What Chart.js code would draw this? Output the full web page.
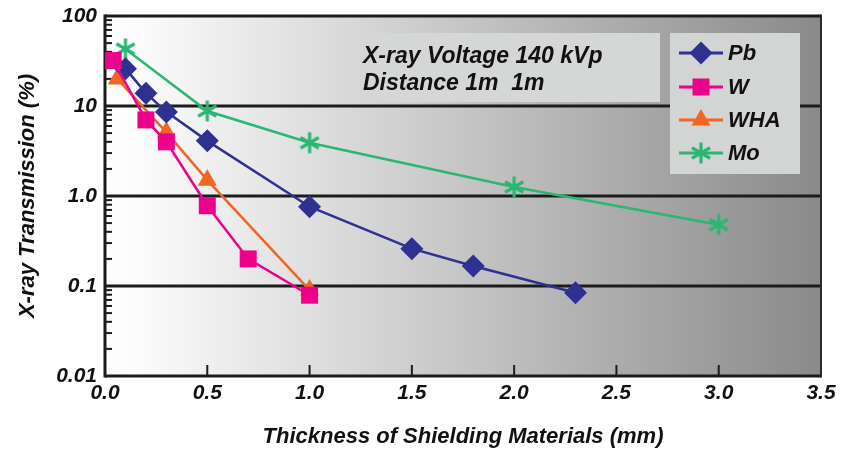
<!DOCTYPE html>
<html><head><meta charset="utf-8">
<script src="https://cdn.jsdelivr.net/npm/chart.js@4.4.1/dist/chart.umd.min.js"></script>
<style>html,body{margin:0;padding:0;background:#fff}canvas{display:block}</style>
</head><body>
<canvas id="c" width="842" height="452"></canvas>
<script>
// ---- data ----
const seriesNames = ['Pb', 'W', 'WHA', 'Mo'];
const pbX  = [0.1, 0.2, 0.3, 0.5, 1.0, 1.5, 1.8, 2.3];
const pbY  = [26, 13.9, 8.6, 4.1, 0.76, 0.26, 0.167, 0.084];
const wX   = [0.04, 0.2, 0.3, 0.5, 0.7, 1.0];
const wY   = [32, 7.0, 4.0, 0.78, 0.2, 0.079];
const whaX = [0.06, 0.3, 0.5, 1.0];
const whaY = [20, 5.1, 1.5, 0.09];
const moX  = [0.1, 0.5, 1.0, 2.0, 3.0];
const moY  = [43, 8.8, 3.9, 1.26, 0.48];
const xTicks = [0, 0.5, 1.0, 1.5, 2.0, 2.5, 3.0, 3.5];
const yTicks = [0.01, 0.1, 1, 10, 100];
const yTickLabels = ['0.01', '0.1', '1.0', '10', '100'];
const xTitle = 'Thickness of Shielding Materials (mm)';
const yTitle = 'X-ray Transmission (%)';
const annotationLines = ['X-ray Voltage 140 kVp', 'Distance 1m  1m'];

const colors = ['#2e3192', '#ec008c', '#f26522', '#2bb673'];
const SANS = "'Liberation Sans',Arial,Helvetica,sans-serif";

function makeAsterisk(color) {
  const c = document.createElement('canvas');
  c.width = 24; c.height = 24;
  const g = c.getContext('2d');
  g.strokeStyle = color; g.lineWidth = 3.2; g.lineCap = 'butt';
  const r = 10.5;
  [90, 30, 150].forEach(deg => {
    const a = deg * Math.PI / 180;
    g.beginPath();
    g.moveTo(12 - r * Math.cos(a), 12 - r * Math.sin(a));
    g.lineTo(12 + r * Math.cos(a), 12 + r * Math.sin(a));
    g.stroke();
  });
  return c;
}
const asterisk = makeAsterisk(colors[3]);

const pts = (xs, ys) => xs.map((x, i) => ({x: x, y: ys[i]}));
const styles = [
  {pointStyle: 'rectRot', pointRadius: 11.5, order: 1},
  {pointStyle: 'rect', pointRadius: 12, order: 0},
  {pointStyle: 'triangle', pointRadius: 11, order: 2},
  {pointStyle: asterisk, pointRadius: 12, order: 3}
];
const dataSets = [pts(pbX, pbY), pts(wX, wY), pts(whaX, whaY), pts(moX, moY)];

const datasets = dataSets.map((d, i) => ({
  label: seriesNames[i],
  data: d,
  showLine: true,
  borderColor: colors[i],
  backgroundColor: colors[i],
  pointBackgroundColor: colors[i],
  pointBorderColor: colors[i],
  pointBorderWidth: 0,
  borderWidth: 2.5,
  pointStyle: styles[i].pointStyle,
  pointRadius: styles[i].pointRadius,
  order: styles[i].order
}));

const decor = {
  id: 'decor',
  beforeDraw(chart) {
    const {ctx, chartArea: a} = chart;
    const g = ctx.createLinearGradient(a.left, 0, a.right, 0);
    g.addColorStop(0, '#ffffff');
    g.addColorStop(0.04, '#fcfcfc');
    g.addColorStop(1, '#8a8a8a');
    ctx.save();
    ctx.fillStyle = g;
    ctx.fillRect(a.left, a.top, a.right - a.left, a.bottom - a.top);
    ctx.restore();
  },
  beforeDatasetsDraw(chart) {
    const {ctx, chartArea: a, scales: {x, y}} = chart;
    ctx.save();
    ctx.strokeStyle = '#1c1c1c';
    ctx.lineWidth = 3;
    [10, 1, 0.1].forEach(v => {
      const py = y.getPixelForValue(v);
      ctx.beginPath(); ctx.moveTo(a.left, py); ctx.lineTo(a.right, py); ctx.stroke();
    });
    ctx.lineWidth = 2;
    [0.01, 0.1, 1, 10].forEach(d => {
      for (let k = 2; k <= 9; k++) {
        const py = y.getPixelForValue(d * k);
        ctx.beginPath(); ctx.moveTo(a.left, py); ctx.lineTo(a.left + 7, py); ctx.stroke();
      }
      const py = y.getPixelForValue(d);
      ctx.beginPath(); ctx.moveTo(a.left, py); ctx.lineTo(a.left + 9, py); ctx.stroke();
    });
    xTicks.slice(1, -1).forEach(v => {
      const px = x.getPixelForValue(v);
      ctx.beginPath(); ctx.moveTo(px, a.bottom); ctx.lineTo(px, a.bottom - 11); ctx.stroke();
    });
    ctx.lineWidth = 3;
    ctx.beginPath(); ctx.moveTo(a.left, a.top); ctx.lineTo(a.right, a.top); ctx.stroke();
    ctx.beginPath(); ctx.moveTo(a.left, a.top - 1.5); ctx.lineTo(a.left, a.bottom + 1.5); ctx.stroke();
    ctx.beginPath(); ctx.moveTo(a.left, a.bottom); ctx.lineTo(a.right, a.bottom); ctx.stroke();
    ctx.strokeStyle = '#2a2a2a'; ctx.lineWidth = 2;
    ctx.beginPath(); ctx.moveTo(a.right, a.top - 1.5); ctx.lineTo(a.right, a.bottom + 1.5); ctx.stroke();
    ctx.restore();
  },
  afterDatasetsDraw(chart) {
    const {ctx} = chart;
    ctx.save();
    ctx.fillStyle = '#d5d7d7';
    ctx.fillRect(358, 33, 302, 69);
    ctx.fillStyle = '#111';
    ctx.font = 'italic bold 23px ' + SANS;
    ctx.textBaseline = 'alphabetic';
    ctx.textAlign = 'left';
    ctx.fillText(annotationLines[0], 363, 63);
    ctx.fillText(annotationLines[1], 363, 90);
    ctx.fillStyle = '#d3d5d5';
    ctx.fillRect(670, 33, 130, 141);
    const rows = [53, 87, 120, 153];
    chart.data.datasets.forEach((ds, i) => {
      const yy = rows[i];
      ctx.strokeStyle = ds.borderColor; ctx.lineWidth = 3;
      ctx.beginPath(); ctx.moveTo(679, yy); ctx.lineTo(723, yy); ctx.stroke();
      ctx.fillStyle = ds.backgroundColor; ctx.strokeStyle = ds.borderColor;
      Chart.helpers.drawPoint(ctx, {pointStyle: ds.pointStyle, radius: ds.pointRadius, borderWidth: 0, rotation: 0}, 701, yy);
      ctx.fillStyle = '#111';
      ctx.font = 'italic bold 22px ' + SANS;
      ctx.textBaseline = 'middle';
      ctx.fillText(ds.label, 728, yy + 1);
    });
    ctx.restore();
  }
};

new Chart(document.getElementById('c'), {
  type: 'scatter',
  data: {datasets: datasets},
  plugins: [decor],
  options: {
    responsive: false,
    animation: false,
    devicePixelRatio: 1,
    layout: {padding: {top: 16, right: 21, left: 0, bottom: 0}},
    plugins: {legend: {display: false}, tooltip: {enabled: false}},
    scales: {
      x: {
        type: 'linear', min: 0, max: 3.5,
        afterBuildTicks: s => { s.ticks = xTicks.map(v => ({value: v})); },
        afterFit: s => { s.height = 76; },
        grid: {display: false, drawTicks: false},
        border: {display: false},
        ticks: {
          padding: 5, color: '#111', maxRotation: 0, autoSkip: false,
          font: {family: SANS, size: 21, style: 'italic', weight: 'bold'},
          callback: v => Number(v).toFixed(1)
        },
        title: {
          display: true, text: xTitle, color: '#111',
          font: {family: SANS, size: 22, style: 'italic', weight: 'bold'},
          padding: {top: 0, bottom: 2}
        }
      },
      y: {
        type: 'logarithmic', min: 0.01, max: 100,
        afterBuildTicks: s => { s.ticks = yTicks.map(v => ({value: v})); },
        afterFit: s => { s.width = 105; },
        grid: {display: false, drawTicks: false},
        border: {display: false},
        ticks: {
          padding: 8, color: '#111', autoSkip: false,
          font: {family: SANS, size: 21, style: 'italic', weight: 'bold', lineHeight: 0.7},
          callback: (v, i) => yTickLabels[i]
        },
        title: {
          display: true, text: yTitle, color: '#111',
          font: {family: SANS, size: 22, style: 'italic', weight: 'bold'},
          padding: {top: 15, bottom: 0}
        }
      }
    }
  }
});
</script>
</body></html>
